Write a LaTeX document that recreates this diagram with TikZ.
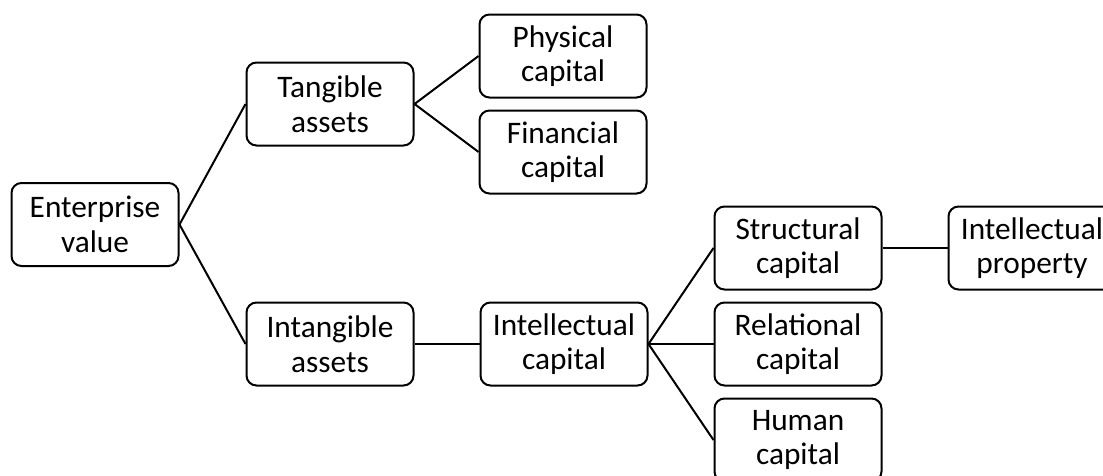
\documentclass[tikz,border=0pt]{standalone}
\usepackage{fontspec}
\setmainfont{Carlito}
\usetikzlibrary{positioning}

\colorlet{box edge}{black}
\colorlet{box area}{white}
\tikzset{box/.style={draw=box edge, fill=box area, line width=1.5pt, rounded corners=7.5pt,
        minimum width=125.25pt, minimum height=62.25pt, inner sep=0pt,
        align=center, font=\fontsize{23.5}{26}\selectfont},
    link/.style={draw=box edge, line width=1.5pt}}

\begin{document}
\begin{tikzpicture}[x=0.75pt, y=-0.75pt, node distance=8.25pt and 48.75pt]
    \useasboundingbox (0,0) rectangle (1103,475);
    % root and first level
    \node[box] (ev) at (95,224.5) {Enterprise\\value};
    \node[box] (ta) at (330,104) {Tangible\\assets};
    \node[box] (ia) at (330,344) {Intangible\\assets};
    % tangible side
    \node[box] (pc) at (563,56) {Physical\\capital};
    \node[box, below=of pc] (fc) {Financial\\capital};
    % intangible side
    \node[box, right=of ia] (ic) {Intellectual\\capital};
    \node[box, right=of ic] (rc) {Relational\\capital};
    \node[box, above=of rc] (sc) {Structural\\capital};
    \node[box, below=of rc] (hc) {Human\\capital};
    \node[box, right=of sc] (ip) {Intellectual\\property};
    % connectors
    \draw[link] (ev.east) -- (ta.west);
    \draw[link] (ev.east) -- (ia.west);
    \draw[link] (ta.east) -- (pc.west);
    \draw[link] (ta.east) -- (fc.west);
    \draw[link] (ia.east) -- (ic.west);
    \draw[link] (ic.east) -- (sc.west);
    \draw[link] (ic.east) -- (rc.west);
    \draw[link] (ic.east) -- (hc.west);
    \draw[link] (sc.east) -- (ip.west);
\end{tikzpicture}
\end{document}
